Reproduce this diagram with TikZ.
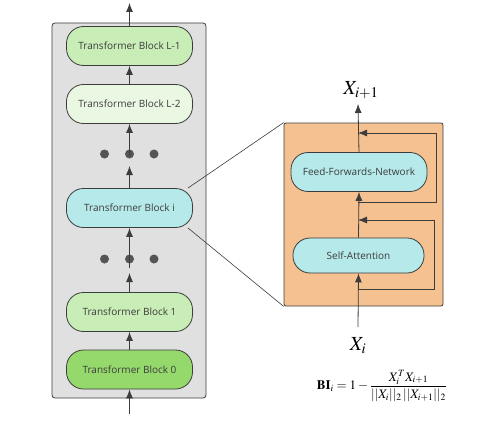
\documentclass[tikz,border=0pt]{standalone}
\usepackage{mathptmx}
\usepackage{fontspec}
\setsansfont{Open Sans}
\usetikzlibrary{arrows.meta}
\definecolor{linegray}{HTML}{3C3C3C}
\definecolor{boxgray}{HTML}{E0E0E0}
\definecolor{dotgray}{HTML}{555555}
\definecolor{greenA}{HTML}{C8EDB6}
\definecolor{greenB}{HTML}{EAF7E2}
\definecolor{greenC}{HTML}{95D96C}
\definecolor{cyanA}{HTML}{B6E9EA}
\definecolor{orangeA}{HTML}{F5C190}
\tikzset{
  blk/.style={draw=linegray, line width=0.8pt, rounded corners=17pt,
    minimum width=126pt, minimum height=39pt, inner sep=0pt,
    font=\sffamily\fontsize{10}{12}\selectfont, text=linegray},
  arr/.style={draw=linegray, line width=0.8pt, -{Latex[length=9pt,width=7pt]}},
  bigdot/.style={circle, fill=dotgray, inner sep=0pt, minimum size=9pt},
}
\begin{document}
\begin{tikzpicture}[x=1pt, y=-1pt]
\useasboundingbox (0,0) rectangle (498,428);

% left stack
\node[draw=linegray, line width=0.8pt, fill=boxgray, rounded corners=3pt,
  minimum width=154pt, minimum height=375pt] (stack) at (129,210.5) {};
\node[blk, fill=greenA] (blkL1) at (129.5,46) {Transformer Block L-1};
\node[blk, fill=greenB] (blkL2) at (129.5,104) {Transformer Block L-2};
\node[blk, fill=cyanA] (blki) at (129.5,208) {Transformer Block i};
\node[blk, fill=greenA] (blk1) at (129.5,312) {Transformer Block 1};
\node[blk, fill=greenC] (blk0) at (129.5,369.5) {Transformer Block 0};
\foreach \dy/\nm in {154/a, 259/b} {
  \node[bigdot] (\nm1) at (104.5,\dy) {};
  \node[bigdot] (\nm2) at (129.5,\dy) {};
  \node[bigdot] (\nm3) at (154,\dy) {};
}
\coordinate (outtop) at (129.5,3);
\coordinate (intop) at (129.5,414);
\draw[arr] (blkL1.north) -- (outtop);
\draw[arr] (blkL2.north) -- (blkL1.south);
\draw[arr] ([yshift=-7pt]a2.north) -- (blkL2.south);
\draw[arr] (blki.north) -- (129.5,166);
\draw[arr] ([yshift=-14pt]b2.north) -- (blki.south);
\draw[arr] (blk1.north) -- (129.5,273);
\draw[arr] (blk0.north) -- (blk1.south);
\draw[arr] (intop) -- (blk0.south);

% right detail
\node[draw=linegray, line width=0.8pt, fill=orangeA, rounded corners=2pt,
  minimum width=159pt, minimum height=183pt] (resbox) at (363.5,214.5) {};
\node[blk, fill=cyanA, minimum width=136pt] (ffn) at (359,172) {Feed-Forwards-Network};
\node[blk, fill=cyanA, minimum width=131pt, minimum height=35pt] (att) at (358.5,255.5) {Self-Attention};
\node (xin) at (358,346) {\fontsize{20}{24}\selectfont $X_i$};
\node[anchor=south] (xout) at (361,102) {\fontsize{20}{24}\selectfont $X_{i+1}$};
\draw[arr] (358,327) -- (att.south);
\draw[arr] (att.north) -- (ffn.south);
\draw[arr] (ffn.north) -- (358,104);
\draw[arr] (358,289) -| (434,220) -- (358,220);
\draw[arr] (358,202) -| (436,133) -- (358,133);

% zoom lines
\draw[linegray, line width=0.6pt] ([xshift=-5pt]blki.north east) -- (resbox.north west);
\draw[linegray, line width=0.6pt] ([xshift=-5pt]blki.south east) -- (resbox.south west);

\node (score) at (382,386) {\fontsize{13}{15}\selectfont $\displaystyle \mathbf{BI}_i = 1 - \frac{X_i^T X_{i+1}}{||X_i||_2\,||X_{i+1}||_2}$};
\end{tikzpicture}
\end{document}
